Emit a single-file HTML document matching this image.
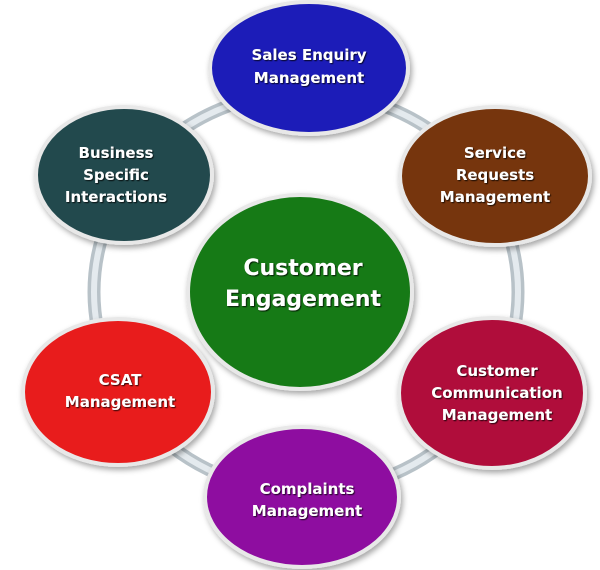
<!DOCTYPE html>
<html><head><meta charset="utf-8"><style>
html,body{margin:0;padding:0;background:#fff;width:600px;height:570px;overflow:hidden}
text{font-family:"DejaVu Sans","Liberation Sans",sans-serif;font-weight:bold;fill:#fff;text-anchor:middle}
</style></head><body>
<svg width="600" height="570" viewBox="0 0 600 570" xmlns="http://www.w3.org/2000/svg">
<defs>
<filter id="sh" x="-20%" y="-20%" width="140%" height="140%"><feDropShadow dx="2" dy="3" stdDeviation="3" flood-color="#000" flood-opacity="0.35"/></filter>
<filter id="ts"><feDropShadow dx="1" dy="1" stdDeviation="0.6" flood-color="#000" flood-opacity="0.8"/></filter>
</defs>
<ellipse cx="306" cy="292" rx="212" ry="200" fill="none" stroke="#b8c2c8" stroke-width="13"/>
<ellipse cx="306" cy="292" rx="212" ry="200" fill="none" stroke="#e4eaee" stroke-width="6"/>
<g filter="url(#sh)" stroke="#e8e8e8" stroke-width="4">
<ellipse cx="309" cy="68" rx="99" ry="66" fill="#1c1cb8"/>
<ellipse cx="495" cy="176" rx="95" ry="69" fill="#763409"/>
<ellipse cx="124" cy="175" rx="88" ry="68" fill="#244a4e"/>
<ellipse cx="300" cy="292" rx="112" ry="97" fill="#197a19"/>
<ellipse cx="118" cy="392" rx="95" ry="73" fill="#e81a1a"/>
<ellipse cx="492" cy="393" rx="93" ry="75" fill="#b00f3a"/>
<ellipse cx="302" cy="497" rx="97" ry="70" fill="#8e10a0"/>
</g>
<g filter="url(#ts)" font-size="15">
<text x="309" y="60">Sales Enquiry</text><text x="309" y="83">Management</text>
<text x="495" y="158">Service</text><text x="495" y="180">Requests</text><text x="495" y="202">Management</text>
<text x="116" y="158">Business</text><text x="116" y="180">Specific</text><text x="116" y="202">Interactions</text>
<text x="120" y="385">CSAT</text><text x="120" y="407">Management</text>
<text x="497" y="376">Customer</text><text x="497" y="398">Communication</text><text x="497" y="420">Management</text>
<text x="307" y="494">Complaints</text><text x="307" y="516">Management</text>
<text x="303" y="275" font-size="22">Customer</text><text x="303" y="306" font-size="22">Engagement</text>
</g>
</svg>
</body></html>
